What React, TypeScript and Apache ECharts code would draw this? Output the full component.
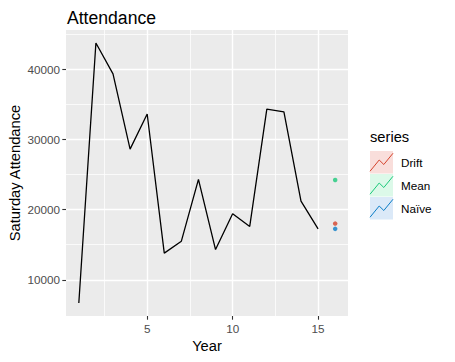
import React, { useEffect, useRef } from "react";
import * as echarts from "echarts";

const years = [1, 2, 3, 4, 5, 6, 7, 8, 9, 10, 11, 12, 13, 14, 15];
const attendance = [6700, 43700, 39300, 28600, 33600, 13800, 15500, 24300, 14300, 19400, 17600, 34300, 33900, 21200, 17250];
const forecastYear = 16;
const forecastNames = ["Drift", "Mean", "Naïve"];
const forecastValues = [18000, 24200, 17250];
const forecastColors = ["#D5432C", "#1BC97A", "#0B7DC7"];
const keyFills = ["#F8D6D2", "#D3F7E3", "#D2E3F6"];
const xMajorTicks = [5, 10, 15];
const xMinorTicks = [2.5, 7.5, 12.5];
const yMajorTicks = [10000, 20000, 30000, 40000];
const yMinorTicks = [15000, 25000, 35000, 45000];

const FONT = "Liberation Sans, Arial, sans-serif";

export default function App() {
  const ref = useRef<HTMLDivElement>(null);
  useEffect(() => {
    if (!ref.current) return;
    const chart = echarts.init(ref.current, null, { renderer: "svg" });
    const xMin = 0.25, xMax = 16.75, yMin = 4850, yMax = 45550;
    const keyX = 370, keyTop = 151, keyW = 23, keyH = 22.5, keyGap = 0.5;
    const zig: any[] = forecastNames.map((n, i) => {
      const y0 = keyTop + i * (keyH + keyGap);
      return {
        type: "polyline",
        silent: true,
        z: 100,
        shape: {
          points: [
            [keyX, y0 + 0.9 * keyH],
            [keyX + 0.4 * keyW, y0 + 0.4 * keyH],
            [keyX + 0.6 * keyW, y0 + 0.6 * keyH],
            [keyX + keyW, y0 + 0.1 * keyH],
          ],
        },
        style: { stroke: forecastColors[i], lineWidth: 1, fill: null },
      };
    });
    const plain = (v: number) => String(v);
    const option: any = {
      animation: false,
      backgroundColor: "#ffffff",
      title: {
        text: "Attendance",
        left: 62,
        top: 4,
        textStyle: { fontFamily: FONT, fontSize: 17.6, fontWeight: "normal", color: "#000" },
      },
      grid: {
        left: 66,
        top: 30,
        width: 282,
        height: 286,
        show: true,
        containLabel: false,
        outerBoundsMode: "none",
        backgroundColor: "#EBEBEB",
        borderWidth: 0,
      },
      legend: {
        orient: "vertical",
        left: keyX,
        top: keyTop,
        padding: 0,
        itemWidth: keyW,
        itemHeight: keyH,
        itemGap: keyGap,
        selectedMode: false,
        textStyle: { fontFamily: FONT, fontSize: 11.7, color: "#000", padding: [0, 0, 0, 3] },
        data: forecastNames.map((n, i) => ({
          name: n,
          icon: "rect",
          itemStyle: { color: keyFills[i], borderWidth: 0 },
        })),
      },
      graphic: [
        {
          type: "text",
          left: keyX,
          top: 129,
          style: { text: "series", fontFamily: FONT, fontSize: 14.7, fill: "#000" },
        },
        ...zig,
      ],
      xAxis: [
        {
          type: "value",
          min: xMin,
          max: xMax,
          name: "Year",
          nameLocation: "middle",
          nameGap: 22,
          nameMoveOverlap: false,
          nameTextStyle: { fontFamily: FONT, fontSize: 14.7, color: "#000" },
          axisLine: { show: false },
          axisTick: { show: true, length: 3.7, lineStyle: { color: "#333333", width: 1.1 }, customValues: xMajorTicks },
          axisLabel: { customValues: xMajorTicks, formatter: plain, color: "#4D4D4D", fontFamily: FONT, fontSize: 11.7, margin: 6 },
          splitLine: { show: true, lineStyle: { color: "#FFFFFF", width: 1.4 } },
        },
        {
          type: "value",
          min: xMin,
          max: xMax,
          position: "bottom",
          axisLine: { show: false },
          axisTick: { show: false, customValues: xMinorTicks },
          axisLabel: { show: false, customValues: xMinorTicks },
          splitLine: { show: true, lineStyle: { color: "#FFFFFF", width: 0.75 } },
        },
      ],
      yAxis: [
        {
          type: "value",
          min: yMin,
          max: yMax,
          name: "Saturday Attendance",
          nameLocation: "middle",
          nameGap: 44,
          nameMoveOverlap: false,
          nameTextStyle: { fontFamily: FONT, fontSize: 14.7, color: "#000" },
          axisLine: { show: false },
          axisTick: { show: true, length: 3.7, lineStyle: { color: "#333333", width: 1.1 }, customValues: yMajorTicks },
          axisLabel: { customValues: yMajorTicks, formatter: plain, color: "#4D4D4D", fontFamily: FONT, fontSize: 11.7, margin: 6 },
          splitLine: { show: true, lineStyle: { color: "#FFFFFF", width: 1.4 } },
        },
        {
          type: "value",
          min: yMin,
          max: yMax,
          position: "left",
          axisLine: { show: false },
          axisTick: { show: false, customValues: yMinorTicks },
          axisLabel: { show: false, customValues: yMinorTicks },
          splitLine: { show: true, lineStyle: { color: "#FFFFFF", width: 0.75 } },
        },
      ],
      series: [
        {
          type: "line",
          name: "Attendance",
          xAxisIndex: 0,
          yAxisIndex: 0,
          data: years.map((y, i) => [y, attendance[i]]),
          symbol: "none",
          lineStyle: { color: "#000000", width: 1.3 },
          itemStyle: { color: "#000000" },
          z: 3,
        },
        ...forecastNames.map((n, i) => ({
          type: "scatter",
          name: n,
          xAxisIndex: 0,
          yAxisIndex: 0,
          data: [[forecastYear, forecastValues[i]]],
          symbol: "circle",
          symbolSize: 4.5,
          itemStyle: { color: forecastColors[i] },
          z: 4,
        })),
      ],
    };
    chart.setOption(option);
    return () => chart.dispose();
  }, []);
  return <div ref={ref} style={{ width: 455, height: 362, position: "absolute", left: 0, top: 0 }} />;
}
